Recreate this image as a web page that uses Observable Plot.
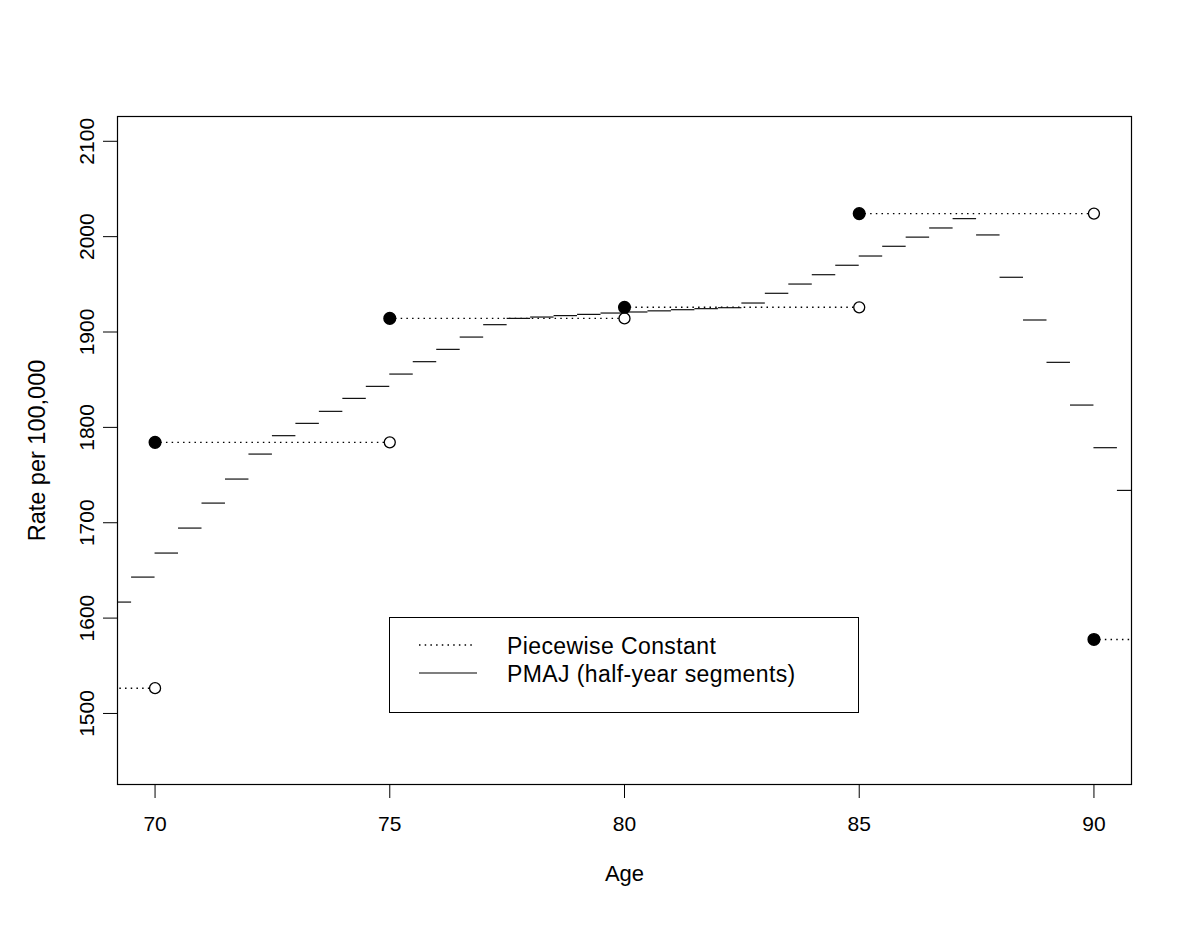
<!DOCTYPE html>
<html>
<head>
<meta charset="utf-8">
<script src="https://cdn.jsdelivr.net/npm/d3@7"></script>
<script src="https://cdn.jsdelivr.net/npm/@observablehq/plot@0.6"></script>
<style>
  html, body { margin: 0; padding: 0; background: #fff; }
  #wrap { position: relative; width: 1199px; height: 926px; font-family: "Liberation Sans", Arial, Helvetica, sans-serif; }
  #legend { position: absolute; left: 389px; top: 617px; width: 470px; height: 96px; box-sizing: border-box; border: 1px solid #000; background: #fff; }
  #legend svg { position: absolute; left: 0; top: 0; }
</style>
</head>
<body>
<div id="wrap"></div>
<script>
// ---- data ----
// PMAJ half-year segments: start age of each segment and its rate
const pmajAge = [69, 69.5, 70, 70.5, 71, 71.5, 72, 72.5, 73, 73.5, 74, 74.5,
  75, 75.5, 76, 76.5, 77, 77.5, 78, 78.5, 79, 79.5,
  80, 80.5, 81, 81.5, 82, 82.5, 83, 83.5, 84, 84.5,
  85, 85.5, 86, 86.5, 87, 87.5, 88, 88.5, 89, 89.5, 90, 90.5];
const pmajRate = [1616.8, 1643.0, 1668.2, 1694.4, 1720.6, 1745.8, 1772.0, 1791.3, 1804.2, 1816.8, 1830.4, 1843.0,
  1855.9, 1868.9, 1881.8, 1894.7, 1907.7, 1914.3, 1915.7, 1917.2, 1918.5, 1919.9,
  1921.0, 1922.2, 1923.4, 1924.5, 1925.5, 1930.4, 1940.6, 1950.3, 1960.1, 1970.0,
  1979.7, 1989.9, 1999.5, 2009.1, 2018.9, 2001.8, 1957.4, 1912.6, 1868.2, 1823.4, 1778.7, 1733.9];
const pmajWidth = 0.5;

// Piecewise constant (5-year groups)
const pcStart = [65, 70, 75, 80, 85, 90];
const pcEnd   = [70, 75, 80, 85, 90, 95];
const pcRate  = [1526.5, 1784.3, 1914.3, 1925.9, 2024.2, 1577.6];

// axis ticks and labels
const xTicks = [70, 75, 80, 85, 90];
const yTicks = [1500, 1600, 1700, 1800, 1900, 2000, 2100];
const xLabel = "Age";
const yLabel = "Rate per 100,000";
const legendLabels = ["Piecewise Constant", "PMAJ (half-year segments)"];

// ---- derived tables ----
const pmaj = pmajAge.map((a, i) => ({x1: a, x2: a + pmajWidth, y: pmajRate[i]}));
const pc = pcStart.map((s, i) => ({x1: s, x2: pcEnd[i], y: pcRate[i]}));
const xMin = 70, xMax = 90;
const filled = pc.filter(d => d.x1 >= xMin && d.x1 <= xMax).map(d => ({x: d.x1, y: d.y}));
const open = pc.filter(d => d.x2 >= xMin && d.x2 <= xMax).map(d => ({x: d.x2, y: d.y}));

const font = "Liberation Sans, Arial, Helvetica, sans-serif";

const chart = Plot.plot({
  width: 1199,
  height: 926,
  marginLeft: 117,
  marginRight: 68,
  marginTop: 116,
  marginBottom: 142,
  style: {fontFamily: font, fontSize: "21px", background: "#fff", color: "#000"},
  x: {domain: [69.2, 90.8]},
  y: {domain: [1425.5, 2126]},
  marks: [
    Plot.ruleY(pc, {x1: "x1", x2: "x2", y: "y", stroke: "#000", strokeWidth: 1.4, strokeDasharray: "1.5,4.2", clip: true}),
    Plot.ruleY(pmaj, {x1: "x1", x2: "x2", y: "y", stroke: "#111", strokeWidth: 1.2, clip: true}),
    Plot.dot(open, {x: "x", y: "y", r: 5.5, fill: "#fff", stroke: "#000", strokeWidth: 1.3}),
    Plot.dot(filled, {x: "x", y: "y", r: 5.8, fill: "#000", stroke: "#000"}),
    Plot.frame({stroke: "#000", strokeWidth: 1.2}),
    Plot.axisX({ticks: xTicks, tickSize: 14, tickPadding: 18, tickFormat: d => String(d), fontSize: 21, label: null, stroke: "#000"}),
    Plot.axisY({ticks: yTicks, tickSize: 14, tickPadding: 10, tickRotate: -90, tickFormat: d => String(d), textAnchor: "middle", lineAnchor: "bottom", fontSize: 21, label: null, stroke: "#000"}),
    Plot.text([xLabel], {frameAnchor: "bottom", dy: 89, lineAnchor: "middle", textAnchor: "middle", fontSize: 22, fill: "#000"}),
    Plot.text([yLabel], {frameAnchor: "left", dx: -80, rotate: -90, textAnchor: "middle", lineAnchor: "middle", fontSize: 23.5, fill: "#000"})
  ]
});

const wrap = document.getElementById("wrap");
wrap.appendChild(chart);

// legend (box overlay in the plot area)
const legend = document.createElement("div");
legend.id = "legend";
const NS = "http://www.w3.org/2000/svg";
const lsvg = document.createElementNS(NS, "svg");
lsvg.setAttribute("width", "470");
lsvg.setAttribute("height", "96");
const items = [
  {dash: "1.5,4.2", y: 27, w: 1.4},
  {dash: null, y: 55, w: 1.2}
];
items.forEach((it, i) => {
  const ln = document.createElementNS(NS, "line");
  ln.setAttribute("x1", "29"); ln.setAttribute("x2", i === 0 ? "84" : "87");
  ln.setAttribute("y1", it.y); ln.setAttribute("y2", it.y);
  ln.setAttribute("stroke", "#000");
  ln.setAttribute("stroke-width", it.w);
  if (it.dash) ln.setAttribute("stroke-dasharray", it.dash);
  lsvg.appendChild(ln);
  const tx = document.createElementNS(NS, "text");
  tx.setAttribute("x", "117");
  tx.setAttribute("y", it.y + 8.5);
  tx.setAttribute("font-family", font);
  tx.setAttribute("font-size", "23");
  tx.setAttribute("letter-spacing", "0.4");
  tx.setAttribute("fill", "#000");
  tx.textContent = legendLabels[i];
  lsvg.appendChild(tx);
});
legend.appendChild(lsvg);
wrap.appendChild(legend);
</script>
</body>
</html>
